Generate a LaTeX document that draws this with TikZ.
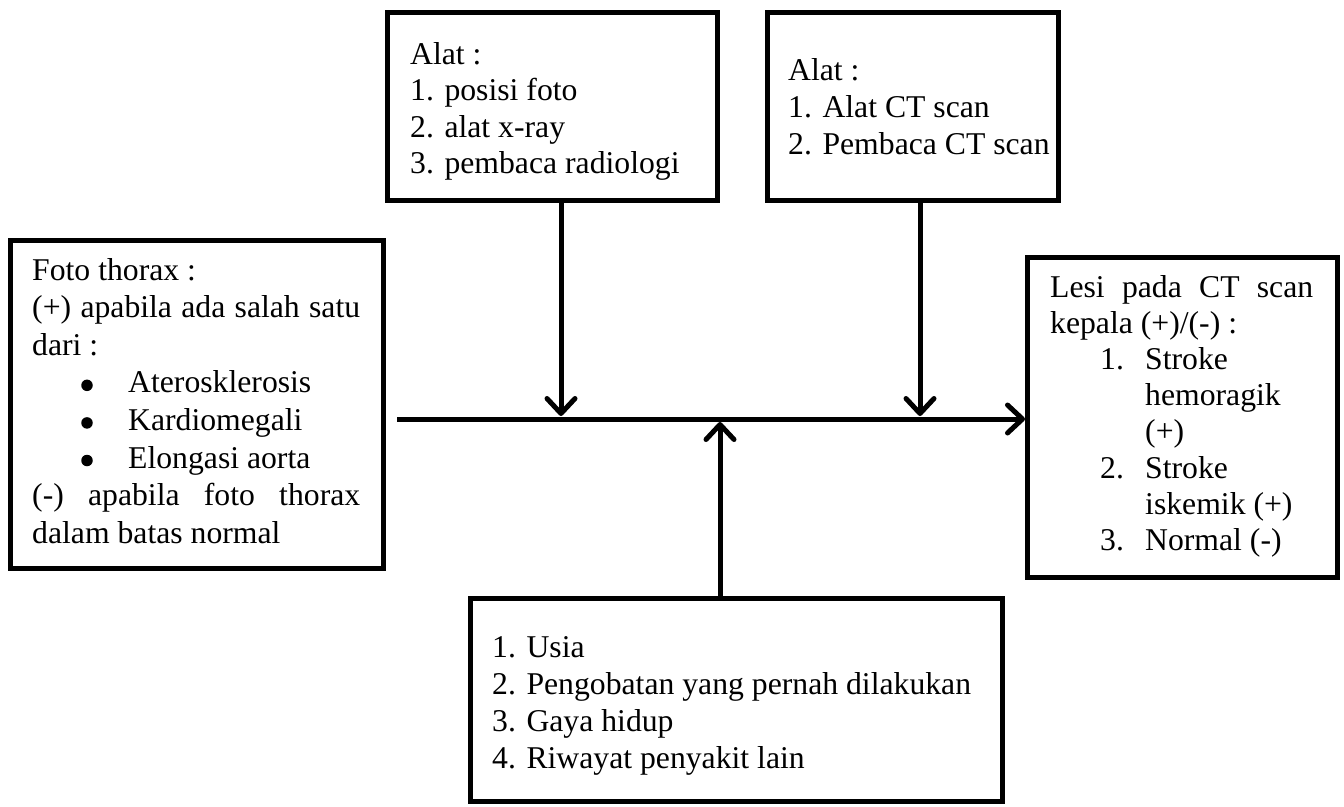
\documentclass[tikz,border=0pt]{standalone}
\usepackage{fontspec}
\setmainfont{Liberation Serif}
\usetikzlibrary{arrows.meta,shadows}
\newcommand\rows[2]{\vtop{\baselineskip=#1\relax\lineskiplimit=-100pt\relax #2}}
\begin{document}
\begin{tikzpicture}[x=1pt,y=-1pt,
  box/.style={draw=black, line width=5pt, fill=white, rectangle, inner sep=0pt,
    drop shadow={shadow xshift=2pt, shadow yshift=-2pt, opacity=0.25, fill=gray}},
  txt/.style={anchor=base west, inner sep=0pt, font=\fontsize{31.7}{36.5}\selectfont},
  dot/.style={circle, fill=black, inner sep=0pt, minimum size=11.5pt},
  arr/.style={line width=5pt, -{Straight Barb[length=15pt, width=28pt, round]}},
]
\useasboundingbox (0,0) rectangle (1344,806);

\node[box, minimum width=330pt, minimum height=188pt] (alat1) at (552,106) {};
\node[box, minimum width=291pt, minimum height=188pt] (alat2) at (912.5,106) {};
\node[box, minimum width=373pt, minimum height=328pt] (foto) at (196.5,404) {};
\node[box, minimum width=310pt, minimum height=320pt] (lesi) at (1182.5,417) {};
\node[box, minimum width=532pt, minimum height=203pt] (faktor) at (736,699.5) {};

\node[txt] (t1) at (410,64) {\rows{36.5pt}{\hbox{Alat :}\hbox{1. posisi foto}\hbox{2. alat x-ray}\hbox{3. pembaca radiologi}}};
\node[txt] (t2) at (788,80) {\rows{37pt}{\hbox{Alat :}\hbox{1. Alat CT scan}\hbox{2. Pembaca CT scan}}};
\node[txt] (t3) at (32,280) {\rows{37.6pt}{%
  \hbox{Foto thorax :}%
  \hbox to 328pt{(+) apabila ada salah satu}%
  \hbox{dari :}%
  \hbox{\hspace*{96pt}Aterosklerosis}%
  \hbox{\hspace*{96pt}Kardiomegali}%
  \hbox{\hspace*{96pt}Elongasi aorta}%
  \hbox to 328pt{(-) apabila foto thorax}%
  \hbox{dalam batas normal}}};
\node[dot] (d1) at (87,385.3) {};
\node[dot] (d2) at (87,422.9) {};
\node[dot] (d3) at (87,460.5) {};
\node[txt] (t4) at (1050,297) {\rows{36.2pt}{%
  \hbox to 263pt{Lesi pada CT scan}%
  \hbox{kepala (+)/(-) :}%
  \hbox{\hspace*{50pt}\makebox[45pt][l]{1.}Stroke}%
  \hbox{\hspace*{95pt}hemoragik}%
  \hbox{\hspace*{95pt}(+)}%
  \hbox{\hspace*{50pt}\makebox[45pt][l]{2.}Stroke}%
  \hbox{\hspace*{95pt}iskemik (+)}%
  \hbox{\hspace*{50pt}\makebox[45pt][l]{3.}Normal (-)}}};
\node[txt] (t5) at (492,657) {\rows{37pt}{%
  \hbox{1. Usia}%
  \hbox{2. Pengobatan yang pernah dilakukan}%
  \hbox{3. Gaya hidup}%
  \hbox{4. Riwayat penyakit lain}}};

\coordinate (lstart) at (397,419);
\coordinate (j1) at (561,416);
\coordinate (j2) at (920,416);
\coordinate (j3) at (720,422);
\draw[arr] (lstart) -- (lesi.west |- lstart);
\draw[arr] (alat1.south -| j1) -- (j1);
\draw[arr] (alat2.south -| j2) -- (j2);
\draw[arr] (faktor.north -| j3) -- (j3);
\end{tikzpicture}
\end{document}
